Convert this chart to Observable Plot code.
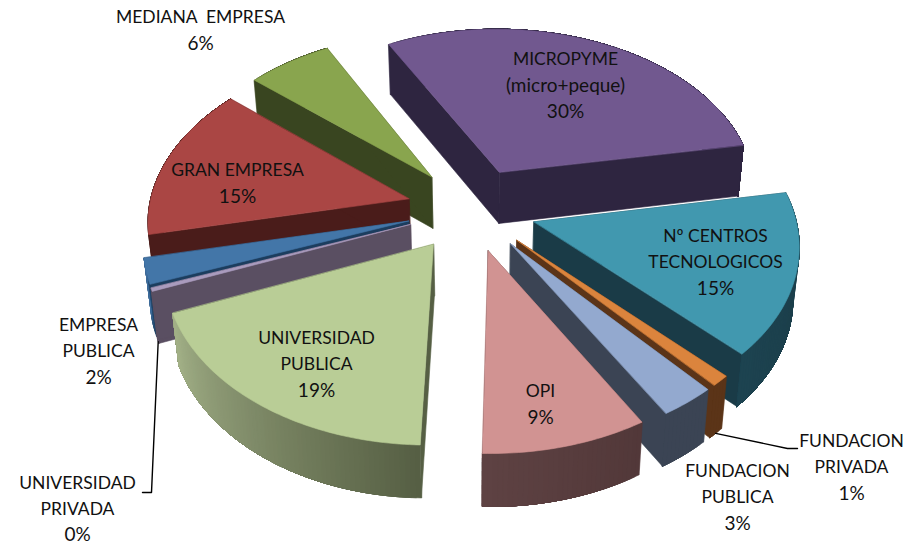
<!DOCTYPE html>
<html>
<head>
<meta charset="utf-8">
<script src="https://cdn.jsdelivr.net/npm/d3@7"></script>
<script src="https://cdn.jsdelivr.net/npm/@observablehq/plot@0.6"></script>
<style>
html,body{margin:0;padding:0;background:#fff}
svg{display:block}
</style>
</head>
<body>
<div id="chart"></div>
<script>
// ---- data (clockwise, starting at MICROPYME) ----
const categories = ["MICROPYME\n(micro+peque)", "Nº CENTROS\nTECNOLOGICOS", "FUNDACION\nPRIVADA", "FUNDACION\nPUBLICA", "OPI", "UNIVERSIDAD\nPUBLICA", "UNIVERSIDAD\nPRIVADA", "EMPRESA\nPUBLICA", "GRAN EMPRESA", "MEDIANA  EMPRESA"];
const shares = [30, 15.3, 1, 3, 8.9, 18.5, 0.3, 2.4, 14.6, 6];

// ---- styles ----
const topColors  = ["#71588f", "#4198af", "#db843d", "#93a9cf", "#d19392", "#b9cd96", "#a99bbd", "#4376a8", "#aa4644", "#89a54e"];
const wallColors = ["#2e2540", "#1a3b47", "#5b3418", "#3b4454", "#523839", "#565f44", "#5a4f62", "#1c3d5e", "#4a1c1a", "#394520"];
const rimColors  = ["#2e2540", "#1d4350", "#5b3418", "#3b4454", "#5e4243", "#a2b087", "#5a4f62", "#3f6f9f", "#4a1c1a", "#394520"];

// ---- layout ----
const firstBearing = -28, explode = 0.25, perspective = 0.118;
const centerX = 471, centerY = 208.5, radiusX = 260, radiusY = 168;
const labelX = [565, 715, 851, 737, 540, 316, 77, 98, 237, 200];
const labelY = [85, 262, 467, 497, 404, 364, 508.5, 351, 183, 30];
const lineStep = 26;

const project = (X, Y) => {
  const w = 1 + perspective * Y;
  return [centerX + radiusX * X / w, centerY - radiusY * Y / w];
};
const lowered = ([sx, sy], Y) => [sx - (sx - 480) * 0.02, sy + 51.5 - 1.2 * Y];

const total = d3.sum(shares);
const rad = d => d * Math.PI / 180;
let bearing = firstBearing;
const slices = shares.map((v, i) => {
  const a0 = bearing, a1 = bearing + v / total * 360;
  bearing = a1;
  return {i, a0, a1, mid: (a0 + a1) / 2};
});

const faces = [];
let faceId = 0;
const addFace = (pts, color) => {
  const z = faceId++;
  for (const [x, y] of pts) faces.push({x, y, z, color});
};

function buildSlice(s) {
  const ox = explode * Math.sin(rad(s.mid)), oy = explode * Math.cos(rad(s.mid));
  const rimP = a => ({X: ox + Math.sin(rad(a)), Y: oy + Math.cos(rad(a))});
  const top = p => project(p.X, p.Y);
  const low = p => lowered(project(p.X, p.Y), p.Y);
  const apex = {X: ox, Y: oy};
  const steps = Math.max(1, Math.ceil(s.a1 - s.a0));
  const angles = d3.range(steps + 1).map(k => s.a0 + (s.a1 - s.a0) * k / steps);
  const rim = angles.map(rimP);
  const drawRadials = () => {
    for (const p of [rim[0], rim[steps]]) addFace([top(apex), top(p), low(p), low(apex)], wallColors[s.i]);
  };
  const drawRim = () => {
    const mix = d3.interpolateRgb(wallColors[s.i], rimColors[s.i]);
    // each strip runs on to the end of the wall and the next one paints over it, so no seams show
    for (let k = 0; k < steps; k++) {
      const rest = rim.slice(k);
      addFace([...rest.map(top), ...[...rest].reverse().map(low)], mix(k / Math.max(1, steps - 1)));
    }
  };
  if (Math.cos(rad(s.mid)) > 0) { drawRim(); drawRadials(); }
  else { drawRadials(); drawRim(); }
  addFace([top(apex), ...rim.map(top)], topColors[s.i]);
  s.wallAt = t => low(rimP(s.a0 + (s.a1 - s.a0) * t));
}
[...slices].sort((a, b) => d3.descending(Math.cos(rad(a.mid)), Math.cos(rad(b.mid)))).forEach(buildSlice);

// every line of a label is its own text, so mixed-case lines can be set slightly larger as in the source font
const labels = categories.flatMap((name, i) => {
  const lines = [...name.split("\n"), `${Math.round(shares[i])}%`];
  return lines.map((text, k) => ({
    x: labelX[i],
    y: labelY[i] + (k - (lines.length - 1) / 2) * lineStep,
    text,
    size: text === text.toUpperCase() && !text.includes("%") ? 17.5 : 19
  }));
});

// leader lines run from the wall of a slice to its outside label
const leaderPriv = [slices[2].wallAt(0.5), [787, 448], [797, 448]];
const leaderUniv = [slices[6].wallAt(0.5), [151, 492], [142, 492]];

const chart = Plot.plot({
  width: 917, height: 544,
  margin: 0,
  x: {domain: [0, 917], range: [0, 917], axis: null},
  y: {domain: [0, 544], range: [0, 544], axis: null},
  marks: [
    Plot.line(faces, {x: "x", y: "y", z: "z", fill: "color", stroke: "color", strokeWidth: 0.6, curve: "linear-closed"}),
    Plot.line(leaderPriv, {x: d => d[0], y: d => d[1], stroke: "#000", strokeWidth: 1.4}),
    Plot.line(leaderUniv, {x: d => d[0], y: d => d[1], stroke: "#000", strokeWidth: 1.4}),
    Plot.text(labels, {x: "x", y: "y", text: "text", fontSize: "size", fill: "#111", fontFamily: "Lato", textAnchor: "middle"})
  ]
});
document.getElementById("chart").append(chart);
</script>
</body>
</html>
